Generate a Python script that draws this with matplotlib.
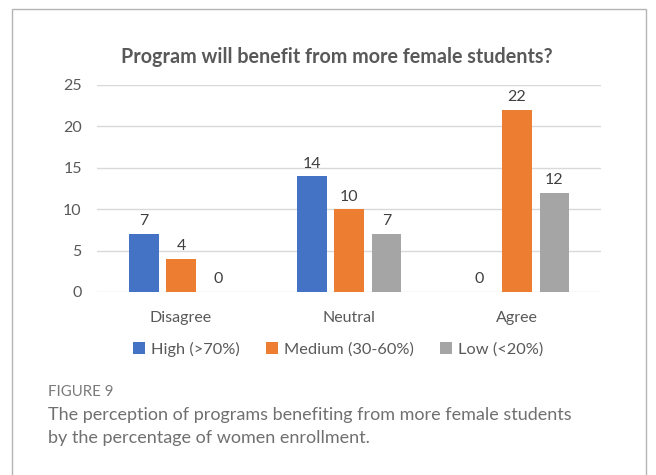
import numpy as np
import matplotlib
matplotlib.use('Agg')
import matplotlib.pyplot as plt
from matplotlib.patches import Rectangle

categories = ['Disagree', 'Neutral', 'Agree']
series_names = ['High (>70%)', 'Medium (30-60%)', 'Low (<20%)']
high = [7, 14, 0]
medium = [4, 10, 22]
low = [0, 7, 12]
yticks = [0, 5, 10, 15, 20, 25]

colors = ['#4472C4', '#ED7D31', '#A5A5A5']
txt = '#595959'

plt.rcParams['font.family'] = ['Lato', 'DejaVu Sans']

fig = plt.figure(figsize=(6.56, 4.75), dpi=100)
ax = fig.add_axes([0.1479, 0.3853, 0.7683, 0.4358])

x = np.arange(len(categories))
w = 0.178
step = 0.223
for i, (vals, name) in enumerate(zip([high, medium, low], series_names)):
    bars = ax.bar(x + (i - 1) * step, vals, width=w, color=colors[i], label=name, zorder=3)
    for b, v in zip(bars, vals):
        ax.annotate(str(v), (b.get_x() + b.get_width() / 2, v), xytext=(0, 4),
                    textcoords='offset points', ha='center', va='bottom',
                    fontsize=11.5, color='#404040')

ax.set_xlim(-0.5, 2.5)
ax.set_ylim(0, 25)
ax.set_yticks(yticks)
ax.set_xticks(x)
ax.set_xticklabels(categories)
ax.yaxis.grid(True, color='#D9D9D9', linewidth=1, zorder=0)
for s in ax.spines.values():
    s.set_visible(False)
ax.tick_params(axis='both', length=0, labelsize=11.5, labelcolor=txt)
ax.tick_params(axis='y', pad=11)
ax.tick_params(axis='x', pad=14)

fig.text(0.514, 0.881, 'Program will benefit from more female students?',
         ha='center', va='center', fontsize=14.2, fontweight='bold', color=txt)

fig.legend(loc='center', bbox_to_anchor=(0.515, 0.265), ncol=3, frameon=False,
           fontsize=11.8, labelcolor=txt, handlelength=0.75, handleheight=0.75,
           handletextpad=0.35, columnspacing=1.6)

# outer frame
fig.patches.append(Rectangle((12 / 656, -0.1), (646 - 12) / 656, 1.1 - 9 / 475,
                             transform=fig.transFigure, fill=False,
                             edgecolor='#B4B4B4', linewidth=1))

cap = '#707070'
fig.text(48 / 656, 1 - 392 / 475, 'FIGURE 9', ha='left', va='center',
         fontsize=10.8, color='#7A7A7A')
fig.text(48 / 656, 1 - 415 / 475, 'The perception of programs benefiting from more female students',
         ha='left', va='center', fontsize=13, color=cap)
fig.text(48 / 656, 1 - 438 / 475, 'by the percentage of women enrollment.',
         ha='left', va='center', fontsize=13, color=cap)

fig.savefig('out.png', dpi=100)
